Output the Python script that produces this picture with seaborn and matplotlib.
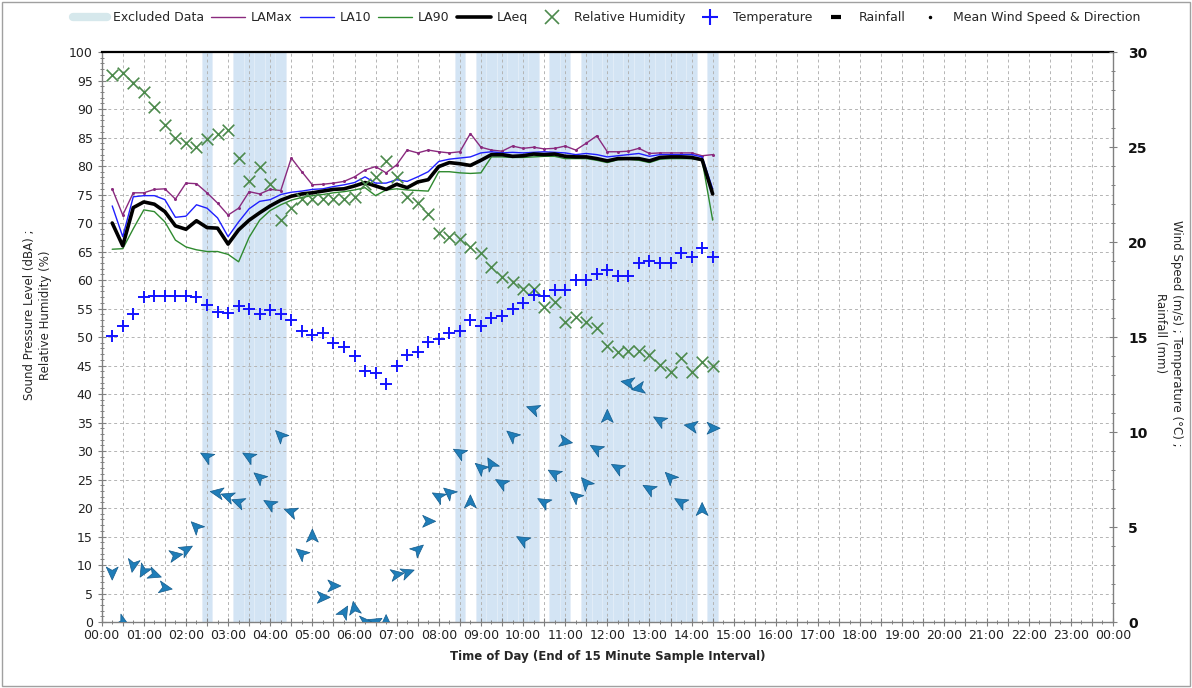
import numpy as np
import pandas as pd
import matplotlib
matplotlib.use("Agg")
import matplotlib.pyplot as plt
import seaborn as sns
from matplotlib.markers import MarkerStyle
from matplotlib.path import Path
from matplotlib.transforms import Affine2D
from matplotlib.lines import Line2D
from matplotlib.patches import Rectangle
from matplotlib.ticker import MultipleLocator, FixedLocator, FixedFormatter

# ---------------- data (15-minute samples, end of interval) ----------------
sample_end = [f"{(15 * k) // 60:02d}:{(15 * k) % 60:02d}" for k in range(1, 59)]

la_max = [76.0, 71.4, 75.3, 75.3, 75.9, 76.0, 74.2, 77.0, 76.9, 75.3, 73.5, 71.4, 72.6, 75.5, 75.1,
          75.9, 75.7, 81.4, 79.0, 76.7, 76.8, 77.0, 77.3, 78.1, 79.3, 79.9, 78.8, 80.2, 82.8, 82.3,
          82.8, 82.5, 82.3, 82.5, 85.7, 83.3, 82.8, 82.6, 83.5, 83.1, 83.3, 83.0, 83.1, 83.5, 82.8,
          84.0, 85.3, 82.5, 82.5, 82.6, 83.1, 82.2, 82.3, 82.3, 82.3, 82.3, 81.8, 82.0]
la10 = [73.0, 67.6, 74.6, 74.8, 74.8, 74.1, 71.0, 71.2, 73.2, 72.6, 70.9, 67.6, 70.2, 72.5, 73.8,
        74.1, 75.0, 75.4, 75.6, 75.9, 76.0, 76.4, 76.7, 77.1, 78.1, 77.0, 77.0, 77.6, 77.3, 78.1,
        79.0, 80.8, 81.2, 81.4, 81.6, 82.3, 82.5, 82.3, 82.4, 82.3, 82.4, 82.5, 82.4, 82.3, 82.0,
        82.2, 82.0, 81.6, 81.8, 82.0, 82.2, 81.7, 82.0, 82.0, 82.0, 82.0, 81.6, 76.0]
la90 = [65.4, 65.5, 69.0, 72.3, 72.0, 70.2, 67.0, 65.8, 65.3, 65.0, 65.0, 64.5, 63.2, 67.5, 70.5,
        72.2, 73.2, 74.0, 74.5, 74.8, 75.0, 75.3, 75.5, 75.8, 76.2, 74.8, 75.8, 76.0, 75.8, 75.7,
        75.6, 79.0, 79.0, 78.8, 78.7, 78.8, 81.6, 81.6, 81.5, 81.5, 81.6, 81.7, 81.7, 81.3, 81.3,
        81.3, 81.0, 80.6, 81.1, 81.2, 81.0, 80.6, 81.2, 81.3, 81.3, 81.3, 81.0, 70.5]
la_eq = [70.0, 66.0, 72.7, 73.7, 73.3, 72.0, 69.5, 68.9, 70.4, 69.2, 69.1, 66.3, 68.8, 70.5, 71.8,
         73.0, 74.0, 74.7, 75.1, 75.3, 75.6, 75.9, 76.0, 76.5, 77.1, 76.5, 75.9, 76.8, 76.2, 77.2,
         77.6, 79.9, 80.6, 80.4, 80.1, 81.0, 82.0, 82.0, 81.7, 81.8, 82.1, 82.0, 82.1, 81.7, 81.6,
         81.6, 81.3, 80.9, 81.3, 81.3, 81.3, 80.9, 81.5, 81.6, 81.6, 81.5, 81.1, 75.1]
rel_humidity = [96.0, 96.4, 94.5, 93.0, 90.4, 87.2, 84.9, 84.0, 83.3, 84.7, 85.6, 86.3, 81.4, 77.3,
                79.8, 76.9, 70.5, 72.6, 74.2, 74.2, 74.2, 74.2, 74.2, 74.6, 76.9, 78.1, 80.8, 78.0,
                74.6, 73.5, 71.6, 68.2, 67.5, 67.2, 65.8, 64.7, 62.3, 60.6, 59.7, 58.4, 58.4, 55.3,
                56.2, 52.7, 53.5, 52.7, 51.5, 48.4, 47.4, 47.6, 47.6, 46.8, 45.1, 43.9, 46.3, 43.9,
                45.7, 44.9]
temperature = [15.05, 15.6, 16.2, 17.1, 17.15, 17.15, 17.15, 17.15, 17.1, 16.7, 16.3, 16.25, 16.65,
               16.45, 16.2, 16.4, 16.2, 15.9, 15.3, 15.1, 15.2, 14.7, 14.5, 14.0, 13.2, 13.1, 12.55,
               13.5, 14.05, 14.2, 14.75, 14.9, 15.2, 15.3, 15.9, 15.6, 16.0, 16.1, 16.5, 16.8, 17.2,
               17.15, 17.5, 17.5, 18.0, 18.0, 18.3, 18.55, 18.2, 18.2, 18.9, 19.0, 18.9, 18.9, 19.4,
               19.2, 19.7, 19.2]
wind_speed = [2.6, 0.0, 3.0, 2.7, 2.5, 1.8, 3.5, 3.8, 5.0, 8.7, 6.8, 6.6, 6.3, 8.7, 7.6, 6.2, 9.8,
              5.8, 3.6, 4.5, 1.3, 1.9, 0.5, 0.7, 0.0, 0.0, 0.0, 2.5, 2.6, 3.8, 5.3, 6.6, 6.8, 8.9,
              6.3, 8.1, 8.3, 7.3, 9.8, 4.3, 11.2, 6.3, 7.8, 9.5, 6.6, 7.3, 9.1, 10.8, 8.1, 12.6,
              12.3, 7.0, 10.6, 7.6, 6.3, 10.3, 5.9, 10.2]
wind_dir = [-90, -30, -100, -120, -20, -10, 10, 30, 135, 150, 170, 160, 160, 150, 140, 150, 135,
            160, 140, 90, 0, 0, 60, 100, 0, 30, 90, 10, 20, 40, 0, 150, 140, 150, 90, 140, 120,
            150, 140, 150, 160, 150, 150, -10, 140, 130, 150, 90, 150, 170, 190, 150, 150, 135,
            150, 170, 90, 0]
excluded = ["02:30", "03:15", "03:30", "03:45", "04:00", "04:15", "08:30", "09:00", "09:15",
            "09:30", "09:45", "10:00", "10:15", "10:45", "11:00", "11:30", "11:45", "12:00",
            "12:15", "12:30", "12:45", "13:00", "13:15", "13:30", "13:45", "14:00", "14:30"]
hour_labels = [f"{h % 24:02d}:00" for h in range(25)]


def to_hours(s):
    return int(s[:2]) + int(s[3:]) / 60.0


df = pd.DataFrame({
    "hour": [to_hours(s) for s in sample_end],
    "LAMax": la_max, "LA10": la10, "LA90": la90, "LAeq": la_eq,
    "RH": rel_humidity, "Temp": temperature,
    "Wind": wind_speed, "Dir": wind_dir,
})
excl_hours = [to_hours(s) for s in excluded]

# ---------------- style ----------------
sns.set_theme(style="white")
plt.rcParams["font.family"] = ["DejaVu Sans"]
plt.rcParams["axes.axisbelow"] = True

C_MAX = "#8a2a7e"
C_L10 = "#1f1fff"
C_L90 = "#2f8a2f"
C_RH = "#4d8a4d"
C_T = "#1414ff"
C_WIND = "#1f7db8"
C_EXCL = "#cfe1f3"

fig, ax = plt.subplots(figsize=(11.92, 6.88), dpi=100)
fig.subplots_adjust(left=0.0853, right=0.9337, bottom=0.0959, top=0.9244)

# excluded data bands
ax.bar(excl_hours, [100] * len(excl_hours), width=0.25, color=C_EXCL, alpha=0.9,
       edgecolor="#e4eef8", linewidth=0.6, zorder=0.2)

# noise lines
sns.lineplot(data=df, x="hour", y="LAMax", color=C_MAX, linewidth=1.0, estimator=None,
             marker="o", markersize=2.2, markeredgewidth=0, ax=ax)
sns.lineplot(data=df, x="hour", y="LA10", color=C_L10, linewidth=1.0, estimator=None, ax=ax)
sns.lineplot(data=df, x="hour", y="LA90", color=C_L90, linewidth=1.0, estimator=None, ax=ax)
sns.lineplot(data=df, x="hour", y="LAeq", color="black", linewidth=2.6, estimator=None, ax=ax)

# humidity
sns.scatterplot(data=df, x="hour", y="RH", marker="x", s=70, color=C_RH, linewidth=1.2, ax=ax,
                zorder=3)

ax.set_xlim(0, 24)
ax.set_ylim(0, 100)
half_labels = [hour_labels[k // 2] if k % 2 == 0 else "" for k in range(49)]
ax.xaxis.set_major_locator(FixedLocator([k * 0.5 for k in range(49)]))
ax.xaxis.set_major_formatter(FixedFormatter(half_labels))
ax.xaxis.set_minor_locator(MultipleLocator(0.25))
ax.yaxis.set_major_locator(MultipleLocator(5))
ax.yaxis.set_minor_locator(MultipleLocator(1))
ax.grid(True, which="major", color="#b4b4b4", linestyle=(0, (3, 3)), linewidth=0.7)
ax.tick_params(axis="both", which="major", direction="inout", length=6, width=0.8,
               color="#808080", labelsize=9, labelcolor="#222222", bottom=True, left=True)
ax.tick_params(axis="both", which="minor", direction="inout", length=3, width=0.7,
               color="#808080", bottom=True, left=True)
ax.tick_params(axis="x", pad=2)
ax.set_xlabel("Time of Day (End of 15 Minute Sample Interval)", fontsize=8.5,
              fontweight="bold", labelpad=6)
ax.set_ylabel("")
for side in ["left", "right", "bottom"]:
    ax.spines[side].set_color("#808080")
    ax.spines[side].set_linewidth(1.0)
ax.spines["top"].set_color("black")
ax.spines["top"].set_linewidth(1.6)

# right axis: temperature and wind
ax2 = ax.twinx()
sns.scatterplot(data=df, x="hour", y="Temp", marker="+", s=80, color=C_T, linewidth=1.4,
                ax=ax2, zorder=3)

arrow = Path([(1.0, 0.0), (-0.75, 0.8), (-0.3, 0.0), (-0.75, -0.8), (1.0, 0.0)],
             [Path.MOVETO, Path.LINETO, Path.LINETO, Path.LINETO, Path.CLOSEPOLY])
arrow_markers = {d: MarkerStyle(arrow, transform=Affine2D().rotate_deg(d))
                 for d in sorted(set(wind_dir))}
sns.scatterplot(data=df, x="hour", y="Wind", style="Dir", markers=arrow_markers, s=115,
                color=C_WIND, edgecolor="#135b8c", linewidth=0.5, legend=False, ax=ax2,
                zorder=4)

ax2.set_ylim(0, 30)
ax2.set_xlim(0, 24)
ax2.yaxis.set_major_locator(MultipleLocator(5))
ax2.yaxis.set_minor_locator(MultipleLocator(1))
ax2.grid(False)
ax2.tick_params(axis="y", which="major", direction="inout", length=6, width=0.8,
                color="#808080", labelsize=10, labelcolor="#111111", right=True, pad=8)
ax2.tick_params(axis="y", which="minor", direction="inout", length=3, width=0.7,
                color="#808080", right=True)
for lab in ax2.get_yticklabels():
    lab.set_fontweight("semibold")
ax2.set_ylabel("")
for side in ["left", "right", "bottom", "top"]:
    ax2.spines[side].set_visible(False)

# axis titles
fig.text(38 / 1192, 1 - 315 / 688, "Sound Pressure Level (dBA) ;\nRelative Humidity (%)",
         rotation=90, ha="center", va="center", fontsize=8.5, linespacing=1.3)
fig.text(1168 / 1192, 1 - 333 / 688, "Wind Speed (m/s) ; Temperature (°C) ;\nRainfall (mm)",
         rotation=270, ha="center", va="center", fontsize=8.5, linespacing=1.3)

# legend
handles = [
    Line2D([], [], color="#d6e8ec", linewidth=6),
    Line2D([], [], color=C_MAX, linewidth=1.0),
    Line2D([], [], color=C_L10, linewidth=1.0),
    Line2D([], [], color=C_L90, linewidth=1.0),
    Line2D([], [], color="black", linewidth=2.6),
    Line2D([], [], color=C_RH, marker="x", linestyle="", markersize=10, markeredgewidth=1.2),
    Line2D([], [], color=C_T, marker="+", linestyle="", markersize=11, markeredgewidth=1.5),
    Line2D([], [], color="black", marker="_", linestyle="", markersize=7, markeredgewidth=3),
    Line2D([], [], color="black", marker=".", linestyle="", markersize=3),
]
labels = ["Excluded Data", "LAMax", "LA10", "LA90", "LAeq", "Relative Humidity",
          "Temperature", "Rainfall", "Mean Wind Speed & Direction"]
fig.legend(handles, labels, loc="center", bbox_to_anchor=(0.509, 0.974), ncol=9,
           frameon=False, fontsize=9, handlelength=2.7, columnspacing=0.6,
           handletextpad=0.45)

# outer border
fig.add_artist(Rectangle((0.002, 0.003), 0.996, 0.994, transform=fig.transFigure,
                         fill=False, edgecolor="#a0a0a0", linewidth=1.0))

fig.savefig("out.png", dpi=100)
